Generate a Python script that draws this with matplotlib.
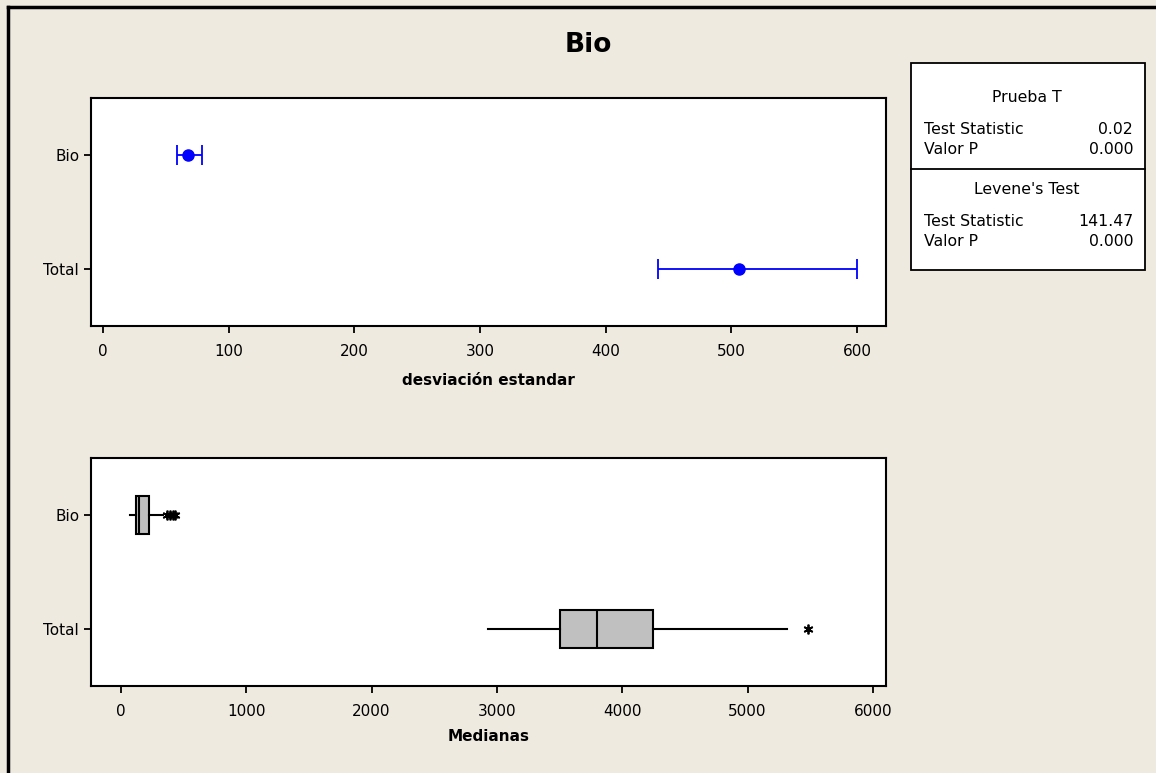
import matplotlib.pyplot as plt
from matplotlib.patches import Rectangle
import numpy as np

plt.rcParams['font.family'] = ['DejaVu Sans']

groups = ['Total', 'Bio']
# intervalos de desviacion estandar
sd_est = [506, 68]
sd_low = [442, 59]
sd_high = [600, 79]

# resumen de las cajas (mediana)
box_whislo = [2930, 72]
box_q1 = [3505, 120]
box_med = [3800, 144]
box_q3 = [4245, 223]
box_whishi = [5315, 335]
box_fliers = [[5482], [370, 395, 415, 430]]

tabla_t = [('Test Statistic', '0.02'), ('Valor P', '0.000')]
tabla_lev = [('Test Statistic', '141.47'), ('Valor P', '0.000')]

bg = '#EEEAE0'
fig = plt.figure(figsize=(11.56, 7.73), dpi=100, facecolor=bg)

# borde superior/izquierdo
fig.add_artist(plt.Line2D([0.0065, 0.0065], [0, 0.991], color='black', lw=2.5, transform=fig.transFigure))
fig.add_artist(plt.Line2D([0.0065, 1], [0.991, 0.991], color='black', lw=2.5, transform=fig.transFigure))

fig.text(0.509, 0.942, 'Bio', ha='center', va='center', fontsize=19, fontweight='bold')

# panel superior
ax1 = fig.add_axes([0.0787, 0.5783, 0.6877, 0.295])
ypos = np.arange(1, len(groups) + 1)
err = [np.array(sd_est) - np.array(sd_low), np.array(sd_high) - np.array(sd_est)]
ax1.errorbar(sd_est, ypos, xerr=err, fmt='o', color='blue', ecolor='blue',
             markersize=8, capsize=7, elinewidth=1.3, capthick=1.3)
ax1.set_xlim(-9.5, 623)
ax1.set_ylim(0.5, 2.5)
ax1.set_yticks(ypos)
ax1.set_yticklabels(groups)
ax1.set_xticks(np.arange(0, 601, 100))
ax1.set_xlabel('desviación estandar', fontsize=11, fontweight='bold', labelpad=10)

# panel inferior
ax2 = fig.add_axes([0.0787, 0.1125, 0.6877, 0.295])
stats = []
for i in range(len(groups)):
    stats.append(dict(whislo=box_whislo[i], q1=box_q1[i], med=box_med[i], q3=box_q3[i],
                      whishi=box_whishi[i], fliers=box_fliers[i]))
ax2.bxp(stats, positions=ypos, orientation='horizontal', widths=0.34, patch_artist=True,
        showcaps=False,
        boxprops=dict(facecolor='#C0C0C0', edgecolor='black', lw=1.5),
        medianprops=dict(color='black', lw=1.5),
        whiskerprops=dict(color='black', lw=1.5),
        flierprops=dict(marker=(6, 2, 0), markersize=7, markeredgecolor='black', markeredgewidth=1.3))
ax2.set_xlim(-239, 6104)
ax2.set_ylim(0.5, 2.5)
ax2.set_yticks(ypos)
ax2.set_yticklabels(groups)
ax2.set_xticks(np.arange(0, 6001, 1000))
ax2.set_xlabel('Medianas', fontsize=11, fontweight='bold', labelpad=7)

for ax in (ax1, ax2):
    ax.set_facecolor('white')
    for s in ax.spines.values():
        s.set_linewidth(1.5)
    ax.tick_params(labelsize=11, length=5, width=1.3)
    ax.tick_params(axis='x', pad=8)

# tabla de resultados
tx0, ty0, tw, th = 911 / 1156, 1 - 270 / 773, 234 / 1156, 207 / 773
fig.add_artist(Rectangle((tx0, ty0), tw, th, transform=fig.transFigure,
                         facecolor='white', edgecolor='black', lw=1.3))
ydiv = 1 - 169 / 773
fig.add_artist(plt.Line2D([tx0, tx0 + tw], [ydiv, ydiv], color='black', lw=1.3, transform=fig.transFigure))
xl, xr, xc = 924 / 1156, 1133 / 1156, 1027 / 1156
fs = 11.3
fig.text(xc, 1 - 97 / 773, 'Prueba T', ha='center', va='center', fontsize=fs)
for (lab, val), yp in zip(tabla_t, [129, 150]):
    fig.text(xl, 1 - yp / 773, lab, ha='left', va='center', fontsize=fs)
    fig.text(xr, 1 - yp / 773, val, ha='right', va='center', fontsize=fs)
fig.text(xc, 1 - 190 / 773, "Levene's Test", ha='center', va='center', fontsize=fs)
for (lab, val), yp in zip(tabla_lev, [221, 242]):
    fig.text(xl, 1 - yp / 773, lab, ha='left', va='center', fontsize=fs)
    fig.text(xr, 1 - yp / 773, val, ha='right', va='center', fontsize=fs)

fig.savefig('out.png', dpi=100, facecolor=bg)
